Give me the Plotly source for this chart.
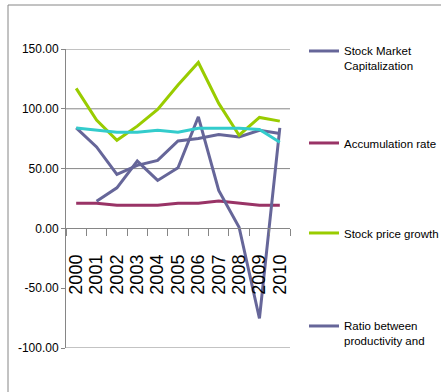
import plotly.graph_objects as go

# categories (years) and series values
years = ["2000", "2001", "2002", "2003", "2004", "2005",
         "2006", "2007", "2008", "2009", "2010"]
stock_market_cap = [84.0, 68.1, 45.1, 52.7, 56.9, 73.1, 75.1, 78.5, 76.5, 82.1, 79.3]
accumulation_rate = [21.0, 21.0, 19.4, 19.4, 19.4, 21.0, 21.0, 23.0, 21.0, 19.4, 19.4]
stock_price_growth = [117.1, 90.5, 73.7, 85.5, 99.5, 119.9, 138.7, 104.5, 77.9, 92.8, 89.7]
ratio_productivity = [None, 22.7, 33.9, 56.3, 40.1, 50.7, 93.3, 31.7, 1.0, -75.3, 84.0]
fifth_series = [84.0, 82.1, 80.4, 80.4, 82.1, 80.4, 83.8, 83.8, 83.8, 82.7, 72.0]

y_ticks = [-100, -50, 0, 50, 100, 150]
y_tick_text = ["-100.00", "-50.00", "0.00", "50.00", "100.00", "150.00"]

FONT = "Liberation Sans, Arial, sans-serif"
GRID = "#868686"

# plot area in pixels, used to place legends / frame in paper units
L, R, T, B = 66, 290, 49, 348


def px_x(p):
    return (p - L) / (R - L)


def px_y(p):
    return (B - p) / (B - T)


fig = go.Figure()

series = [
    ("Stock Market<br>Capitalization", stock_market_cap, "#666699", "legend"),
    ("Accumulation rate", accumulation_rate, "#993366", "legend2"),
    ("Stock price growth", stock_price_growth, "#99CC00", "legend3"),
    ("Ratio between<br>productivity and", ratio_productivity, "#666699", "legend4"),
]
for name, vals, color, leg in series:
    fig.add_trace(go.Scatter(x=years, y=vals, name=name, mode="lines",
                             line=dict(color=color, width=3), legend=leg))

fig.add_trace(go.Scatter(x=years, y=fifth_series, mode="lines",
                         line=dict(color="#33CCCC", width=3), showlegend=False))

# gridlines (the -50 one is hidden by the category labels in the original)
for gy in [150, 100, 50, -100]:
    fig.add_shape(type="line", xref="paper", yref="y", x0=0, x1=1, y0=gy, y1=gy,
                  line=dict(color=GRID, width=1), layer="below")

# chart frame (only the left and top edges fall inside the picture)
fig.add_shape(type="rect", xref="paper", yref="paper",
              x0=px_x(8), x1=px_x(470), y0=px_y(420), y1=px_y(5),
              line=dict(color=GRID, width=1))

legend_common = dict(font=dict(family=FONT, size=11.5, color="black"),
                     bgcolor="rgba(0,0,0,0)", xanchor="left", yanchor="top",
                     valign="top", x=px_x(304))
legend_tops = [51, 143, 233, 326]
fig.update_layout(
    legend=dict(y=px_y(legend_tops[0] - 14), **legend_common),
    legend2=dict(y=px_y(legend_tops[1] - 14), **legend_common),
    legend3=dict(y=px_y(legend_tops[2] - 14), **legend_common),
    legend4=dict(y=px_y(legend_tops[3] - 14), **legend_common),
)

fig.update_layout(
    width=441, height=392, autosize=False,
    margin=dict(l=L, r=441 - R, t=T, b=392 - B, autoexpand=False),
    paper_bgcolor="white", plot_bgcolor="white",
    font=dict(family=FONT, size=12, color="black"),
    xaxis=dict(type="category", range=[-0.5, 10.5], anchor="free", position=0.4,
               tickmode="linear", tick0=0, dtick=1,
               showline=True, linecolor=GRID, ticks="outside", ticklen=7,
               tickcolor=GRID, tickson="boundaries", tickangle=-90,
               ticklabelstandoff=18, showgrid=False, zeroline=False,
               tickfont=dict(family=FONT, size=18)),
    yaxis=dict(range=[-100, 150], tickvals=y_ticks, ticktext=y_tick_text,
               showline=True, linecolor=GRID, ticks="outside", ticklen=4,
               tickcolor=GRID, showgrid=False, zeroline=False,
               tickfont=dict(family=FONT, size=12)),
)

# drop the page's default body margin so the figure sits at the window corner
fig.write_html("out.html", config={"displayModeBar": False},
               post_script="document.body.style.margin='0';")
